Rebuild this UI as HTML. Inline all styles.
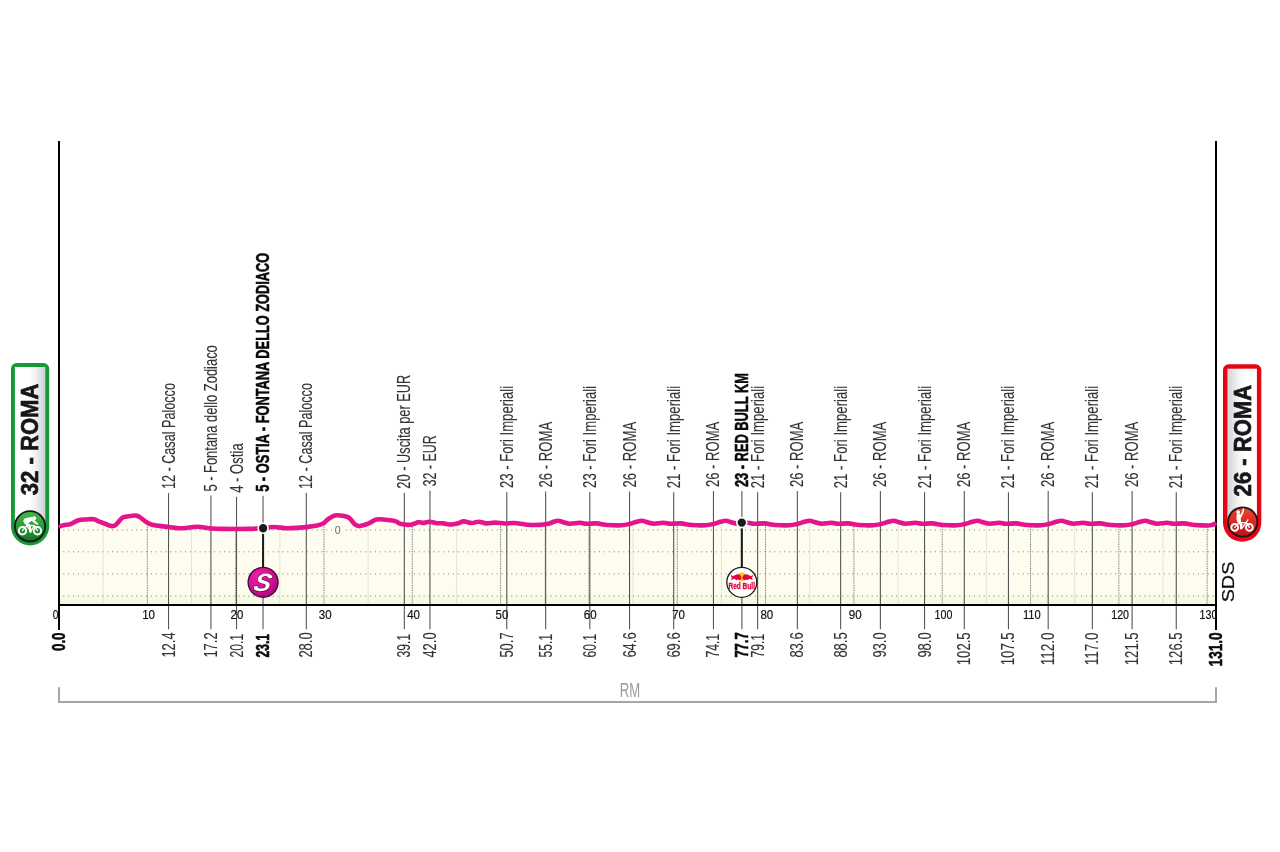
<!DOCTYPE html>
<html><head><meta charset="utf-8"><title>Profile</title>
<style>
html,body{margin:0;padding:0;background:#fff;}
body{width:1280px;height:852px;overflow:hidden;}
svg{display:block;}
text{font-family:"Liberation Sans",sans-serif;}
.lb{font-size:19px;fill:#333;stroke:#333;stroke-width:0.12px;}
.lbb{font-size:19px;fill:#0a0a0a;font-weight:bold;stroke:#0a0a0a;stroke-width:0.55px;}
.tk{font-size:12.8px;fill:#111;stroke:#111;stroke-width:0.2px;}
</style></head><body>
<svg width="1280" height="852" viewBox="0 0 1280 852">
<defs>
<linearGradient id="gf" x1="0" y1="0" x2="0" y2="1"><stop offset="0" stop-color="#fefdf1"/><stop offset="0.86" stop-color="#fdfcee"/><stop offset="1" stop-color="#f3f6de"/></linearGradient>
<linearGradient id="gbL" x1="0" y1="0" x2="1" y2="0"><stop offset="0" stop-color="#ffffff"/><stop offset="0.45" stop-color="#ffffff"/><stop offset="0.68" stop-color="#f1f1f2"/><stop offset="1" stop-color="#cdced1"/></linearGradient>
<linearGradient id="gbR" x1="0" y1="0" x2="1" y2="0"><stop offset="0" stop-color="#d0d4d7"/><stop offset="0.38" stop-color="#f3f4f4"/><stop offset="0.62" stop-color="#ffffff"/><stop offset="1" stop-color="#ffffff"/></linearGradient>
<linearGradient id="gG" x1="0" y1="0" x2="0" y2="1"><stop offset="0" stop-color="#45b944"/><stop offset="0.5" stop-color="#2a9e36"/><stop offset="1" stop-color="#14732a"/></linearGradient>
<linearGradient id="gR" x1="0" y1="0" x2="0" y2="1"><stop offset="0" stop-color="#f0452a"/><stop offset="1" stop-color="#c40d16"/></linearGradient>
<radialGradient id="gS" cx="0.35" cy="0.3" r="0.8"><stop offset="0" stop-color="#f21cab"/><stop offset="0.6" stop-color="#d20f93"/><stop offset="1" stop-color="#9c0a72"/></radialGradient>
</defs>

<clipPath id="cf"><path d="M59,526.3 L60.60,526.20 C61.23,525.98 62.73,525.25 64.40,524.90 C66.07,524.55 68.27,524.88 70.60,524.10 C72.93,523.32 75.79,520.98 78.40,520.20 C81.01,519.43 83.65,519.62 86.25,519.45 C88.85,519.28 91.92,518.88 94.00,519.20 C96.08,519.53 96.92,520.64 98.75,521.40 C100.58,522.16 102.79,522.97 105.00,523.75 C107.21,524.53 110.18,525.94 112.00,526.10 C113.82,526.26 114.20,526.07 115.90,524.70 C117.60,523.33 120.37,519.25 122.20,517.90 C124.03,516.55 124.68,517.00 126.90,516.60 C129.12,516.20 133.42,515.45 135.50,515.50 C137.58,515.55 137.72,515.88 139.40,516.90 C141.08,517.92 143.78,520.40 145.60,521.60 C147.42,522.80 148.73,523.48 150.30,524.10 C151.87,524.72 153.48,525.00 155.00,525.30 C156.52,525.60 157.11,525.62 159.40,525.90 C161.69,526.18 164.85,526.60 168.75,527.00 C172.65,527.40 178.11,528.35 182.80,528.30 C187.49,528.25 192.20,526.68 196.90,526.70 C201.60,526.72 206.83,528.03 211.00,528.40 C215.17,528.77 215.40,528.82 221.90,528.90 C228.40,528.98 244.38,528.95 250.00,528.90 C255.62,528.85 253.42,528.70 255.60,528.60 C257.78,528.50 259.97,528.57 263.10,528.30 C266.23,528.03 270.43,527.00 274.40,527.00 C278.37,527.00 282.63,528.19 286.90,528.30 C291.17,528.41 296.52,527.88 300.00,527.65 C303.48,527.42 305.20,527.22 307.80,526.90 C310.40,526.58 313.12,526.23 315.60,525.70 C318.08,525.18 320.57,524.83 322.65,523.75 C324.73,522.67 326.28,520.51 328.10,519.20 C329.93,517.89 332.03,516.55 333.60,515.90 C335.17,515.25 335.28,515.17 337.50,515.30 C339.72,515.43 344.68,516.01 346.90,516.70 C349.12,517.39 349.50,518.22 350.80,519.45 C352.10,520.68 353.27,522.99 354.70,524.10 C356.13,525.21 357.06,526.22 359.40,526.10 C361.74,525.98 365.88,524.51 368.75,523.40 C371.62,522.29 373.74,520.05 376.60,519.45 C379.46,518.85 383.04,519.59 385.90,519.80 C388.76,520.01 391.90,520.35 393.75,520.70 C395.60,521.05 395.75,521.33 397.00,521.90 C398.25,522.47 398.98,523.63 401.25,524.10 C403.52,524.57 407.74,525.00 410.60,524.70 C413.46,524.40 416.32,522.60 418.40,522.30 C420.48,522.00 421.27,522.98 423.10,522.90 C424.93,522.82 427.05,521.75 429.40,521.80 C431.75,521.85 434.87,522.93 437.20,523.20 C439.53,523.47 441.06,523.18 443.40,523.40 C445.74,523.62 448.90,524.50 451.25,524.50 C453.60,524.50 455.42,523.92 457.50,523.40 C459.58,522.88 461.40,521.47 463.75,521.40 C466.10,521.33 469.12,522.93 471.60,523.00 C474.08,523.07 476.13,521.73 478.60,521.80 C481.07,521.87 483.67,523.27 486.40,523.40 C489.13,523.53 491.90,522.58 495.00,522.60 C498.10,522.62 501.77,523.43 505.00,523.50 C508.23,523.57 510.75,522.80 514.40,523.00 C518.05,523.20 522.73,524.38 526.90,524.70 C531.07,525.02 535.65,525.12 539.40,524.90 C543.15,524.68 547.05,523.92 549.40,523.40 C551.75,522.88 552.05,522.25 553.50,521.80 C554.95,521.35 556.43,520.63 558.10,520.70 C559.77,520.77 561.55,521.70 563.50,522.20 C565.45,522.70 567.07,523.60 569.80,523.70 C572.53,523.80 577.18,522.78 579.90,522.80 C582.62,522.82 583.32,523.70 586.10,523.80 C588.88,523.90 593.02,523.20 596.60,523.40 C600.18,523.60 603.43,524.68 607.60,525.00 C611.77,525.32 617.85,525.50 621.60,525.30 C625.35,525.10 627.60,524.38 630.10,523.80 C632.60,523.22 634.62,522.30 636.60,521.80 C638.59,521.30 640.21,520.73 642.01,520.80 C643.81,520.87 645.46,521.72 647.41,522.20 C649.36,522.68 650.98,523.60 653.71,523.70 C656.44,523.80 661.09,522.78 663.81,522.80 C666.53,522.82 667.23,523.70 670.01,523.80 C672.79,523.90 676.93,523.20 680.51,523.40 C684.09,523.60 687.34,524.68 691.51,525.00 C695.68,525.32 701.76,525.50 705.51,525.30 C709.26,525.10 711.51,524.38 714.01,523.80 C716.51,523.22 718.52,522.30 720.51,521.80 C722.50,521.30 724.12,520.73 725.92,520.80 C727.72,520.87 729.37,521.72 731.32,522.20 C733.27,522.68 734.89,523.60 737.62,523.70 C740.35,523.80 745.00,522.78 747.72,522.80 C750.44,522.82 751.14,523.70 753.92,523.80 C756.70,523.90 760.84,523.20 764.42,523.40 C768.00,523.60 771.25,524.68 775.42,525.00 C779.59,525.32 785.67,525.50 789.42,525.30 C793.17,525.10 795.42,524.38 797.92,523.80 C800.42,523.22 802.44,522.30 804.42,521.80 C806.41,521.30 808.03,520.73 809.83,520.80 C811.63,520.87 813.28,521.72 815.23,522.20 C817.18,522.68 818.80,523.60 821.53,523.70 C824.26,523.80 828.91,522.78 831.63,522.80 C834.35,522.82 835.05,523.70 837.83,523.80 C840.61,523.90 844.75,523.20 848.33,523.40 C851.91,523.60 855.16,524.68 859.33,525.00 C863.50,525.32 869.58,525.50 873.33,525.30 C877.08,525.10 879.33,524.38 881.83,523.80 C884.33,523.22 886.35,522.30 888.33,521.80 C890.32,521.30 891.94,520.73 893.74,520.80 C895.54,520.87 897.19,521.72 899.14,522.20 C901.09,522.68 902.71,523.60 905.44,523.70 C908.17,523.80 912.82,522.78 915.54,522.80 C918.26,522.82 918.96,523.70 921.74,523.80 C924.52,523.90 928.66,523.20 932.24,523.40 C935.82,523.60 939.07,524.68 943.24,525.00 C947.41,525.32 953.49,525.50 957.24,525.30 C960.99,525.10 963.24,524.38 965.74,523.80 C968.24,523.22 970.25,522.30 972.24,521.80 C974.23,521.30 975.85,520.73 977.65,520.80 C979.45,520.87 981.10,521.72 983.05,522.20 C985.00,522.68 986.62,523.60 989.35,523.70 C992.08,523.80 996.73,522.78 999.45,522.80 C1002.17,522.82 1002.87,523.70 1005.65,523.80 C1008.43,523.90 1012.57,523.20 1016.15,523.40 C1019.73,523.60 1022.98,524.68 1027.15,525.00 C1031.32,525.32 1037.40,525.50 1041.15,525.30 C1044.90,525.10 1047.15,524.38 1049.65,523.80 C1052.15,523.22 1054.17,522.30 1056.15,521.80 C1058.13,521.30 1059.76,520.73 1061.56,520.80 C1063.36,520.87 1065.01,521.72 1066.96,522.20 C1068.91,522.68 1070.53,523.60 1073.26,523.70 C1075.99,523.80 1080.64,522.78 1083.36,522.80 C1086.08,522.82 1086.78,523.70 1089.56,523.80 C1092.34,523.90 1096.48,523.20 1100.06,523.40 C1103.64,523.60 1106.89,524.68 1111.06,525.00 C1115.23,525.32 1121.31,525.50 1125.06,525.30 C1128.81,525.10 1131.06,524.38 1133.56,523.80 C1136.06,523.22 1138.07,522.30 1140.06,521.80 C1142.05,521.30 1143.67,520.73 1145.47,520.80 C1147.27,520.87 1148.92,521.72 1150.87,522.20 C1152.82,522.68 1154.44,523.60 1157.17,523.70 C1159.90,523.80 1164.55,522.78 1167.27,522.80 C1169.99,522.82 1170.69,523.70 1173.47,523.80 C1176.25,523.90 1180.39,523.20 1183.97,523.40 C1187.55,523.60 1190.97,524.65 1194.97,525.00 C1198.97,525.35 1205.16,525.50 1208.00,525.50 C1210.84,525.50 1210.90,525.25 1212.00,525.00 C1213.10,524.75 1214.17,524.17 1214.60,524.00 L1216,524 L1216,605 L59,605 Z"/></clipPath>
<path d="M59,526.3 L60.60,526.20 C61.23,525.98 62.73,525.25 64.40,524.90 C66.07,524.55 68.27,524.88 70.60,524.10 C72.93,523.32 75.79,520.98 78.40,520.20 C81.01,519.43 83.65,519.62 86.25,519.45 C88.85,519.28 91.92,518.88 94.00,519.20 C96.08,519.53 96.92,520.64 98.75,521.40 C100.58,522.16 102.79,522.97 105.00,523.75 C107.21,524.53 110.18,525.94 112.00,526.10 C113.82,526.26 114.20,526.07 115.90,524.70 C117.60,523.33 120.37,519.25 122.20,517.90 C124.03,516.55 124.68,517.00 126.90,516.60 C129.12,516.20 133.42,515.45 135.50,515.50 C137.58,515.55 137.72,515.88 139.40,516.90 C141.08,517.92 143.78,520.40 145.60,521.60 C147.42,522.80 148.73,523.48 150.30,524.10 C151.87,524.72 153.48,525.00 155.00,525.30 C156.52,525.60 157.11,525.62 159.40,525.90 C161.69,526.18 164.85,526.60 168.75,527.00 C172.65,527.40 178.11,528.35 182.80,528.30 C187.49,528.25 192.20,526.68 196.90,526.70 C201.60,526.72 206.83,528.03 211.00,528.40 C215.17,528.77 215.40,528.82 221.90,528.90 C228.40,528.98 244.38,528.95 250.00,528.90 C255.62,528.85 253.42,528.70 255.60,528.60 C257.78,528.50 259.97,528.57 263.10,528.30 C266.23,528.03 270.43,527.00 274.40,527.00 C278.37,527.00 282.63,528.19 286.90,528.30 C291.17,528.41 296.52,527.88 300.00,527.65 C303.48,527.42 305.20,527.22 307.80,526.90 C310.40,526.58 313.12,526.23 315.60,525.70 C318.08,525.18 320.57,524.83 322.65,523.75 C324.73,522.67 326.28,520.51 328.10,519.20 C329.93,517.89 332.03,516.55 333.60,515.90 C335.17,515.25 335.28,515.17 337.50,515.30 C339.72,515.43 344.68,516.01 346.90,516.70 C349.12,517.39 349.50,518.22 350.80,519.45 C352.10,520.68 353.27,522.99 354.70,524.10 C356.13,525.21 357.06,526.22 359.40,526.10 C361.74,525.98 365.88,524.51 368.75,523.40 C371.62,522.29 373.74,520.05 376.60,519.45 C379.46,518.85 383.04,519.59 385.90,519.80 C388.76,520.01 391.90,520.35 393.75,520.70 C395.60,521.05 395.75,521.33 397.00,521.90 C398.25,522.47 398.98,523.63 401.25,524.10 C403.52,524.57 407.74,525.00 410.60,524.70 C413.46,524.40 416.32,522.60 418.40,522.30 C420.48,522.00 421.27,522.98 423.10,522.90 C424.93,522.82 427.05,521.75 429.40,521.80 C431.75,521.85 434.87,522.93 437.20,523.20 C439.53,523.47 441.06,523.18 443.40,523.40 C445.74,523.62 448.90,524.50 451.25,524.50 C453.60,524.50 455.42,523.92 457.50,523.40 C459.58,522.88 461.40,521.47 463.75,521.40 C466.10,521.33 469.12,522.93 471.60,523.00 C474.08,523.07 476.13,521.73 478.60,521.80 C481.07,521.87 483.67,523.27 486.40,523.40 C489.13,523.53 491.90,522.58 495.00,522.60 C498.10,522.62 501.77,523.43 505.00,523.50 C508.23,523.57 510.75,522.80 514.40,523.00 C518.05,523.20 522.73,524.38 526.90,524.70 C531.07,525.02 535.65,525.12 539.40,524.90 C543.15,524.68 547.05,523.92 549.40,523.40 C551.75,522.88 552.05,522.25 553.50,521.80 C554.95,521.35 556.43,520.63 558.10,520.70 C559.77,520.77 561.55,521.70 563.50,522.20 C565.45,522.70 567.07,523.60 569.80,523.70 C572.53,523.80 577.18,522.78 579.90,522.80 C582.62,522.82 583.32,523.70 586.10,523.80 C588.88,523.90 593.02,523.20 596.60,523.40 C600.18,523.60 603.43,524.68 607.60,525.00 C611.77,525.32 617.85,525.50 621.60,525.30 C625.35,525.10 627.60,524.38 630.10,523.80 C632.60,523.22 634.62,522.30 636.60,521.80 C638.59,521.30 640.21,520.73 642.01,520.80 C643.81,520.87 645.46,521.72 647.41,522.20 C649.36,522.68 650.98,523.60 653.71,523.70 C656.44,523.80 661.09,522.78 663.81,522.80 C666.53,522.82 667.23,523.70 670.01,523.80 C672.79,523.90 676.93,523.20 680.51,523.40 C684.09,523.60 687.34,524.68 691.51,525.00 C695.68,525.32 701.76,525.50 705.51,525.30 C709.26,525.10 711.51,524.38 714.01,523.80 C716.51,523.22 718.52,522.30 720.51,521.80 C722.50,521.30 724.12,520.73 725.92,520.80 C727.72,520.87 729.37,521.72 731.32,522.20 C733.27,522.68 734.89,523.60 737.62,523.70 C740.35,523.80 745.00,522.78 747.72,522.80 C750.44,522.82 751.14,523.70 753.92,523.80 C756.70,523.90 760.84,523.20 764.42,523.40 C768.00,523.60 771.25,524.68 775.42,525.00 C779.59,525.32 785.67,525.50 789.42,525.30 C793.17,525.10 795.42,524.38 797.92,523.80 C800.42,523.22 802.44,522.30 804.42,521.80 C806.41,521.30 808.03,520.73 809.83,520.80 C811.63,520.87 813.28,521.72 815.23,522.20 C817.18,522.68 818.80,523.60 821.53,523.70 C824.26,523.80 828.91,522.78 831.63,522.80 C834.35,522.82 835.05,523.70 837.83,523.80 C840.61,523.90 844.75,523.20 848.33,523.40 C851.91,523.60 855.16,524.68 859.33,525.00 C863.50,525.32 869.58,525.50 873.33,525.30 C877.08,525.10 879.33,524.38 881.83,523.80 C884.33,523.22 886.35,522.30 888.33,521.80 C890.32,521.30 891.94,520.73 893.74,520.80 C895.54,520.87 897.19,521.72 899.14,522.20 C901.09,522.68 902.71,523.60 905.44,523.70 C908.17,523.80 912.82,522.78 915.54,522.80 C918.26,522.82 918.96,523.70 921.74,523.80 C924.52,523.90 928.66,523.20 932.24,523.40 C935.82,523.60 939.07,524.68 943.24,525.00 C947.41,525.32 953.49,525.50 957.24,525.30 C960.99,525.10 963.24,524.38 965.74,523.80 C968.24,523.22 970.25,522.30 972.24,521.80 C974.23,521.30 975.85,520.73 977.65,520.80 C979.45,520.87 981.10,521.72 983.05,522.20 C985.00,522.68 986.62,523.60 989.35,523.70 C992.08,523.80 996.73,522.78 999.45,522.80 C1002.17,522.82 1002.87,523.70 1005.65,523.80 C1008.43,523.90 1012.57,523.20 1016.15,523.40 C1019.73,523.60 1022.98,524.68 1027.15,525.00 C1031.32,525.32 1037.40,525.50 1041.15,525.30 C1044.90,525.10 1047.15,524.38 1049.65,523.80 C1052.15,523.22 1054.17,522.30 1056.15,521.80 C1058.13,521.30 1059.76,520.73 1061.56,520.80 C1063.36,520.87 1065.01,521.72 1066.96,522.20 C1068.91,522.68 1070.53,523.60 1073.26,523.70 C1075.99,523.80 1080.64,522.78 1083.36,522.80 C1086.08,522.82 1086.78,523.70 1089.56,523.80 C1092.34,523.90 1096.48,523.20 1100.06,523.40 C1103.64,523.60 1106.89,524.68 1111.06,525.00 C1115.23,525.32 1121.31,525.50 1125.06,525.30 C1128.81,525.10 1131.06,524.38 1133.56,523.80 C1136.06,523.22 1138.07,522.30 1140.06,521.80 C1142.05,521.30 1143.67,520.73 1145.47,520.80 C1147.27,520.87 1148.92,521.72 1150.87,522.20 C1152.82,522.68 1154.44,523.60 1157.17,523.70 C1159.90,523.80 1164.55,522.78 1167.27,522.80 C1169.99,522.82 1170.69,523.70 1173.47,523.80 C1176.25,523.90 1180.39,523.20 1183.97,523.40 C1187.55,523.60 1190.97,524.65 1194.97,525.00 C1198.97,525.35 1205.16,525.50 1208.00,525.50 C1210.84,525.50 1210.90,525.25 1212.00,525.00 C1213.10,524.75 1214.17,524.17 1214.60,524.00 L1216,524 L1216,605 L59,605 Z" fill="url(#gf)"/>
<g clip-path="url(#cf)">
<line x1="63.3" y1="530" x2="1214" y2="530" stroke="#7e7e77" stroke-width="1" stroke-dasharray="1 3.87"/>
<line x1="63.3" y1="551.8" x2="1214" y2="551.8" stroke="#7e7e77" stroke-width="1" stroke-dasharray="1 3.87"/>
<line x1="63.3" y1="573.9" x2="1214" y2="573.9" stroke="#7e7e77" stroke-width="1" stroke-dasharray="1 3.87"/>
<line x1="63.3" y1="596.1" x2="1214" y2="596.1" stroke="#7e7e77" stroke-width="1" stroke-dasharray="1 3.87"/>
<line x1="103.16" y1="510.2" x2="103.16" y2="604" stroke="#cdcdc2" stroke-width="1" stroke-dasharray="0.9 0.8"/>
<line x1="147.32" y1="510.2" x2="147.32" y2="604" stroke="#6e6e6a" stroke-width="1" stroke-dasharray="0.9 0.8"/>
<line x1="191.48" y1="510.2" x2="191.48" y2="604" stroke="#cdcdc2" stroke-width="1" stroke-dasharray="0.9 0.8"/>
<line x1="235.64" y1="510.2" x2="235.64" y2="604" stroke="#6e6e6a" stroke-width="1" stroke-dasharray="0.9 0.8"/>
<line x1="279.80" y1="510.2" x2="279.80" y2="604" stroke="#cdcdc2" stroke-width="1" stroke-dasharray="0.9 0.8"/>
<line x1="323.96" y1="510.2" x2="323.96" y2="604" stroke="#6e6e6a" stroke-width="1" stroke-dasharray="0.9 0.8"/>
<line x1="368.12" y1="510.2" x2="368.12" y2="604" stroke="#cdcdc2" stroke-width="1" stroke-dasharray="0.9 0.8"/>
<line x1="412.28" y1="510.2" x2="412.28" y2="604" stroke="#6e6e6a" stroke-width="1" stroke-dasharray="0.9 0.8"/>
<line x1="456.44" y1="510.2" x2="456.44" y2="604" stroke="#cdcdc2" stroke-width="1" stroke-dasharray="0.9 0.8"/>
<line x1="500.60" y1="510.2" x2="500.60" y2="604" stroke="#6e6e6a" stroke-width="1" stroke-dasharray="0.9 0.8"/>
<line x1="544.76" y1="510.2" x2="544.76" y2="604" stroke="#cdcdc2" stroke-width="1" stroke-dasharray="0.9 0.8"/>
<line x1="588.92" y1="510.2" x2="588.92" y2="604" stroke="#6e6e6a" stroke-width="1" stroke-dasharray="0.9 0.8"/>
<line x1="633.08" y1="510.2" x2="633.08" y2="604" stroke="#cdcdc2" stroke-width="1" stroke-dasharray="0.9 0.8"/>
<line x1="677.24" y1="510.2" x2="677.24" y2="604" stroke="#6e6e6a" stroke-width="1" stroke-dasharray="0.9 0.8"/>
<line x1="721.40" y1="510.2" x2="721.40" y2="604" stroke="#cdcdc2" stroke-width="1" stroke-dasharray="0.9 0.8"/>
<line x1="765.56" y1="510.2" x2="765.56" y2="604" stroke="#6e6e6a" stroke-width="1" stroke-dasharray="0.9 0.8"/>
<line x1="809.73" y1="510.2" x2="809.73" y2="604" stroke="#cdcdc2" stroke-width="1" stroke-dasharray="0.9 0.8"/>
<line x1="853.89" y1="510.2" x2="853.89" y2="604" stroke="#6e6e6a" stroke-width="1" stroke-dasharray="0.9 0.8"/>
<line x1="898.05" y1="510.2" x2="898.05" y2="604" stroke="#cdcdc2" stroke-width="1" stroke-dasharray="0.9 0.8"/>
<line x1="942.21" y1="510.2" x2="942.21" y2="604" stroke="#6e6e6a" stroke-width="1" stroke-dasharray="0.9 0.8"/>
<line x1="986.37" y1="510.2" x2="986.37" y2="604" stroke="#cdcdc2" stroke-width="1" stroke-dasharray="0.9 0.8"/>
<line x1="1030.53" y1="510.2" x2="1030.53" y2="604" stroke="#6e6e6a" stroke-width="1" stroke-dasharray="0.9 0.8"/>
<line x1="1074.69" y1="510.2" x2="1074.69" y2="604" stroke="#cdcdc2" stroke-width="1" stroke-dasharray="0.9 0.8"/>
<line x1="1118.85" y1="510.2" x2="1118.85" y2="604" stroke="#6e6e6a" stroke-width="1" stroke-dasharray="0.9 0.8"/>
<line x1="1163.01" y1="510.2" x2="1163.01" y2="604" stroke="#cdcdc2" stroke-width="1" stroke-dasharray="0.9 0.8"/>
<line x1="1207.17" y1="510.2" x2="1207.17" y2="604" stroke="#6e6e6a" stroke-width="1" stroke-dasharray="0.9 0.8"/>
</g>
<rect x="333.4" y="526" width="8.8" height="8" fill="#fdfcee"/>
<text x="337.75" y="533.7" text-anchor="middle" style="font-size:11.2px;fill:#666" textLength="5.9" lengthAdjust="spacingAndGlyphs">0</text>
<line x1="168.52" y1="493.1" x2="168.52" y2="629.3" stroke="#555" stroke-width="1.1"/>
<line x1="210.91" y1="495.6" x2="210.91" y2="629.3" stroke="#555" stroke-width="1.1"/>
<line x1="236.52" y1="496.8" x2="236.52" y2="629.3" stroke="#555" stroke-width="1.1"/>
<line x1="263.02" y1="495.8" x2="263.02" y2="629.3" stroke="#555" stroke-width="1.1"/>
<line x1="306.30" y1="492.9" x2="306.30" y2="629.3" stroke="#555" stroke-width="1.1"/>
<line x1="404.33" y1="492.7" x2="404.33" y2="629.3" stroke="#555" stroke-width="1.1"/>
<line x1="429.95" y1="490.5" x2="429.95" y2="629.3" stroke="#555" stroke-width="1.1"/>
<line x1="506.79" y1="492.1" x2="506.79" y2="629.3" stroke="#555" stroke-width="1.1"/>
<line x1="545.65" y1="491.5" x2="545.65" y2="629.3" stroke="#555" stroke-width="1.1"/>
<line x1="589.81" y1="491.9" x2="589.81" y2="629.3" stroke="#555" stroke-width="1.1"/>
<line x1="629.55" y1="491.5" x2="629.55" y2="629.3" stroke="#555" stroke-width="1.1"/>
<line x1="673.71" y1="492.2" x2="673.71" y2="629.3" stroke="#555" stroke-width="1.1"/>
<line x1="713.46" y1="491.1" x2="713.46" y2="629.3" stroke="#555" stroke-width="1.1"/>
<line x1="741.90" y1="491.1" x2="741.90" y2="629.3" stroke="#555" stroke-width="1.1"/>
<line x1="757.62" y1="492.2" x2="757.62" y2="629.3" stroke="#555" stroke-width="1.1"/>
<line x1="797.36" y1="491.1" x2="797.36" y2="629.3" stroke="#555" stroke-width="1.1"/>
<line x1="840.64" y1="492.2" x2="840.64" y2="629.3" stroke="#555" stroke-width="1.1"/>
<line x1="880.38" y1="491.1" x2="880.38" y2="629.3" stroke="#555" stroke-width="1.1"/>
<line x1="924.54" y1="492.2" x2="924.54" y2="629.3" stroke="#555" stroke-width="1.1"/>
<line x1="964.29" y1="491.1" x2="964.29" y2="629.3" stroke="#555" stroke-width="1.1"/>
<line x1="1008.45" y1="492.2" x2="1008.45" y2="629.3" stroke="#555" stroke-width="1.1"/>
<line x1="1048.19" y1="491.1" x2="1048.19" y2="629.3" stroke="#555" stroke-width="1.1"/>
<line x1="1092.35" y1="492.2" x2="1092.35" y2="629.3" stroke="#555" stroke-width="1.1"/>
<line x1="1132.10" y1="491.1" x2="1132.10" y2="629.3" stroke="#555" stroke-width="1.1"/>
<line x1="1176.26" y1="492.2" x2="1176.26" y2="629.3" stroke="#555" stroke-width="1.1"/>
<rect x="58" y="141" width="2" height="489" fill="#000"/>
<rect x="1215" y="141" width="2" height="489" fill="#000"/>
<rect x="58" y="604" width="1159" height="2" fill="#000"/>
<path d="M60.60,526.20 C61.23,525.98 62.73,525.25 64.40,524.90 C66.07,524.55 68.27,524.88 70.60,524.10 C72.93,523.32 75.79,520.98 78.40,520.20 C81.01,519.43 83.65,519.62 86.25,519.45 C88.85,519.28 91.92,518.88 94.00,519.20 C96.08,519.53 96.92,520.64 98.75,521.40 C100.58,522.16 102.79,522.97 105.00,523.75 C107.21,524.53 110.18,525.94 112.00,526.10 C113.82,526.26 114.20,526.07 115.90,524.70 C117.60,523.33 120.37,519.25 122.20,517.90 C124.03,516.55 124.68,517.00 126.90,516.60 C129.12,516.20 133.42,515.45 135.50,515.50 C137.58,515.55 137.72,515.88 139.40,516.90 C141.08,517.92 143.78,520.40 145.60,521.60 C147.42,522.80 148.73,523.48 150.30,524.10 C151.87,524.72 153.48,525.00 155.00,525.30 C156.52,525.60 157.11,525.62 159.40,525.90 C161.69,526.18 164.85,526.60 168.75,527.00 C172.65,527.40 178.11,528.35 182.80,528.30 C187.49,528.25 192.20,526.68 196.90,526.70 C201.60,526.72 206.83,528.03 211.00,528.40 C215.17,528.77 215.40,528.82 221.90,528.90 C228.40,528.98 244.38,528.95 250.00,528.90 C255.62,528.85 253.42,528.70 255.60,528.60 C257.78,528.50 259.97,528.57 263.10,528.30 C266.23,528.03 270.43,527.00 274.40,527.00 C278.37,527.00 282.63,528.19 286.90,528.30 C291.17,528.41 296.52,527.88 300.00,527.65 C303.48,527.42 305.20,527.22 307.80,526.90 C310.40,526.58 313.12,526.23 315.60,525.70 C318.08,525.18 320.57,524.83 322.65,523.75 C324.73,522.67 326.28,520.51 328.10,519.20 C329.93,517.89 332.03,516.55 333.60,515.90 C335.17,515.25 335.28,515.17 337.50,515.30 C339.72,515.43 344.68,516.01 346.90,516.70 C349.12,517.39 349.50,518.22 350.80,519.45 C352.10,520.68 353.27,522.99 354.70,524.10 C356.13,525.21 357.06,526.22 359.40,526.10 C361.74,525.98 365.88,524.51 368.75,523.40 C371.62,522.29 373.74,520.05 376.60,519.45 C379.46,518.85 383.04,519.59 385.90,519.80 C388.76,520.01 391.90,520.35 393.75,520.70 C395.60,521.05 395.75,521.33 397.00,521.90 C398.25,522.47 398.98,523.63 401.25,524.10 C403.52,524.57 407.74,525.00 410.60,524.70 C413.46,524.40 416.32,522.60 418.40,522.30 C420.48,522.00 421.27,522.98 423.10,522.90 C424.93,522.82 427.05,521.75 429.40,521.80 C431.75,521.85 434.87,522.93 437.20,523.20 C439.53,523.47 441.06,523.18 443.40,523.40 C445.74,523.62 448.90,524.50 451.25,524.50 C453.60,524.50 455.42,523.92 457.50,523.40 C459.58,522.88 461.40,521.47 463.75,521.40 C466.10,521.33 469.12,522.93 471.60,523.00 C474.08,523.07 476.13,521.73 478.60,521.80 C481.07,521.87 483.67,523.27 486.40,523.40 C489.13,523.53 491.90,522.58 495.00,522.60 C498.10,522.62 501.77,523.43 505.00,523.50 C508.23,523.57 510.75,522.80 514.40,523.00 C518.05,523.20 522.73,524.38 526.90,524.70 C531.07,525.02 535.65,525.12 539.40,524.90 C543.15,524.68 547.05,523.92 549.40,523.40 C551.75,522.88 552.05,522.25 553.50,521.80 C554.95,521.35 556.43,520.63 558.10,520.70 C559.77,520.77 561.55,521.70 563.50,522.20 C565.45,522.70 567.07,523.60 569.80,523.70 C572.53,523.80 577.18,522.78 579.90,522.80 C582.62,522.82 583.32,523.70 586.10,523.80 C588.88,523.90 593.02,523.20 596.60,523.40 C600.18,523.60 603.43,524.68 607.60,525.00 C611.77,525.32 617.85,525.50 621.60,525.30 C625.35,525.10 627.60,524.38 630.10,523.80 C632.60,523.22 634.62,522.30 636.60,521.80 C638.59,521.30 640.21,520.73 642.01,520.80 C643.81,520.87 645.46,521.72 647.41,522.20 C649.36,522.68 650.98,523.60 653.71,523.70 C656.44,523.80 661.09,522.78 663.81,522.80 C666.53,522.82 667.23,523.70 670.01,523.80 C672.79,523.90 676.93,523.20 680.51,523.40 C684.09,523.60 687.34,524.68 691.51,525.00 C695.68,525.32 701.76,525.50 705.51,525.30 C709.26,525.10 711.51,524.38 714.01,523.80 C716.51,523.22 718.52,522.30 720.51,521.80 C722.50,521.30 724.12,520.73 725.92,520.80 C727.72,520.87 729.37,521.72 731.32,522.20 C733.27,522.68 734.89,523.60 737.62,523.70 C740.35,523.80 745.00,522.78 747.72,522.80 C750.44,522.82 751.14,523.70 753.92,523.80 C756.70,523.90 760.84,523.20 764.42,523.40 C768.00,523.60 771.25,524.68 775.42,525.00 C779.59,525.32 785.67,525.50 789.42,525.30 C793.17,525.10 795.42,524.38 797.92,523.80 C800.42,523.22 802.44,522.30 804.42,521.80 C806.41,521.30 808.03,520.73 809.83,520.80 C811.63,520.87 813.28,521.72 815.23,522.20 C817.18,522.68 818.80,523.60 821.53,523.70 C824.26,523.80 828.91,522.78 831.63,522.80 C834.35,522.82 835.05,523.70 837.83,523.80 C840.61,523.90 844.75,523.20 848.33,523.40 C851.91,523.60 855.16,524.68 859.33,525.00 C863.50,525.32 869.58,525.50 873.33,525.30 C877.08,525.10 879.33,524.38 881.83,523.80 C884.33,523.22 886.35,522.30 888.33,521.80 C890.32,521.30 891.94,520.73 893.74,520.80 C895.54,520.87 897.19,521.72 899.14,522.20 C901.09,522.68 902.71,523.60 905.44,523.70 C908.17,523.80 912.82,522.78 915.54,522.80 C918.26,522.82 918.96,523.70 921.74,523.80 C924.52,523.90 928.66,523.20 932.24,523.40 C935.82,523.60 939.07,524.68 943.24,525.00 C947.41,525.32 953.49,525.50 957.24,525.30 C960.99,525.10 963.24,524.38 965.74,523.80 C968.24,523.22 970.25,522.30 972.24,521.80 C974.23,521.30 975.85,520.73 977.65,520.80 C979.45,520.87 981.10,521.72 983.05,522.20 C985.00,522.68 986.62,523.60 989.35,523.70 C992.08,523.80 996.73,522.78 999.45,522.80 C1002.17,522.82 1002.87,523.70 1005.65,523.80 C1008.43,523.90 1012.57,523.20 1016.15,523.40 C1019.73,523.60 1022.98,524.68 1027.15,525.00 C1031.32,525.32 1037.40,525.50 1041.15,525.30 C1044.90,525.10 1047.15,524.38 1049.65,523.80 C1052.15,523.22 1054.17,522.30 1056.15,521.80 C1058.13,521.30 1059.76,520.73 1061.56,520.80 C1063.36,520.87 1065.01,521.72 1066.96,522.20 C1068.91,522.68 1070.53,523.60 1073.26,523.70 C1075.99,523.80 1080.64,522.78 1083.36,522.80 C1086.08,522.82 1086.78,523.70 1089.56,523.80 C1092.34,523.90 1096.48,523.20 1100.06,523.40 C1103.64,523.60 1106.89,524.68 1111.06,525.00 C1115.23,525.32 1121.31,525.50 1125.06,525.30 C1128.81,525.10 1131.06,524.38 1133.56,523.80 C1136.06,523.22 1138.07,522.30 1140.06,521.80 C1142.05,521.30 1143.67,520.73 1145.47,520.80 C1147.27,520.87 1148.92,521.72 1150.87,522.20 C1152.82,522.68 1154.44,523.60 1157.17,523.70 C1159.90,523.80 1164.55,522.78 1167.27,522.80 C1169.99,522.82 1170.69,523.70 1173.47,523.80 C1176.25,523.90 1180.39,523.20 1183.97,523.40 C1187.55,523.60 1190.97,524.65 1194.97,525.00 C1198.97,525.35 1205.16,525.50 1208.00,525.50 C1210.84,525.50 1210.90,525.25 1212.00,525.00 C1213.10,524.75 1214.17,524.17 1214.60,524.00" fill="none" stroke="#e5148c" stroke-width="4.6" stroke-linejoin="round" stroke-linecap="round"/>
<text class="lb" transform="translate(174.50,489.10) rotate(-90)" textLength="106.00" lengthAdjust="spacingAndGlyphs">12 - Casal Palocco</text>
<text class="lb" transform="translate(216.90,491.60) rotate(-90)" textLength="146.40" lengthAdjust="spacingAndGlyphs">5 - Fontana dello Zodiaco</text>
<text class="lb" transform="translate(242.51,492.80) rotate(-90)" textLength="49.50" lengthAdjust="spacingAndGlyphs">4 - Ostia</text>
<text class="lbb" transform="translate(269.01,491.80) rotate(-90)" textLength="239.10" lengthAdjust="spacingAndGlyphs">5 - OSTIA - FONTANA DELLO ZODIACO</text>
<text class="lb" transform="translate(312.28,488.90) rotate(-90)" textLength="105.80" lengthAdjust="spacingAndGlyphs">12 - Casal Palocco</text>
<text class="lb" transform="translate(410.32,488.70) rotate(-90)" textLength="114.10" lengthAdjust="spacingAndGlyphs">20 - Uscita per EUR</text>
<text class="lb" transform="translate(435.93,486.50) rotate(-90)" textLength="51.30" lengthAdjust="spacingAndGlyphs">32 - EUR</text>
<text class="lb" transform="translate(512.77,488.10) rotate(-90)" textLength="102.25" lengthAdjust="spacingAndGlyphs">23 - Fori Imperiali</text>
<text class="lb" transform="translate(551.63,487.50) rotate(-90)" textLength="65.65" lengthAdjust="spacingAndGlyphs">26 - ROMA</text>
<text class="lb" transform="translate(595.79,487.90) rotate(-90)" textLength="102.05" lengthAdjust="spacingAndGlyphs">23 - Fori Imperiali</text>
<text class="lb" transform="translate(635.54,487.50) rotate(-90)" textLength="65.65" lengthAdjust="spacingAndGlyphs">26 - ROMA</text>
<text class="lb" transform="translate(679.70,488.20) rotate(-90)" textLength="102.30" lengthAdjust="spacingAndGlyphs">21 - Fori Imperiali</text>
<text class="lb" transform="translate(719.44,487.10) rotate(-90)" textLength="65.40" lengthAdjust="spacingAndGlyphs">26 - ROMA</text>
<text class="lbb" transform="translate(747.89,487.10) rotate(-90)" textLength="114.00" lengthAdjust="spacingAndGlyphs">23 - RED BULL KM</text>
<text class="lb" transform="translate(763.60,488.20) rotate(-90)" textLength="102.30" lengthAdjust="spacingAndGlyphs">21 - Fori Imperiali</text>
<text class="lb" transform="translate(803.35,487.10) rotate(-90)" textLength="65.40" lengthAdjust="spacingAndGlyphs">26 - ROMA</text>
<text class="lb" transform="translate(846.62,488.20) rotate(-90)" textLength="102.30" lengthAdjust="spacingAndGlyphs">21 - Fori Imperiali</text>
<text class="lb" transform="translate(886.37,487.10) rotate(-90)" textLength="65.40" lengthAdjust="spacingAndGlyphs">26 - ROMA</text>
<text class="lb" transform="translate(930.53,488.20) rotate(-90)" textLength="102.30" lengthAdjust="spacingAndGlyphs">21 - Fori Imperiali</text>
<text class="lb" transform="translate(970.27,487.10) rotate(-90)" textLength="65.40" lengthAdjust="spacingAndGlyphs">26 - ROMA</text>
<text class="lb" transform="translate(1014.43,488.20) rotate(-90)" textLength="102.30" lengthAdjust="spacingAndGlyphs">21 - Fori Imperiali</text>
<text class="lb" transform="translate(1054.18,487.10) rotate(-90)" textLength="65.40" lengthAdjust="spacingAndGlyphs">26 - ROMA</text>
<text class="lb" transform="translate(1098.34,488.20) rotate(-90)" textLength="102.30" lengthAdjust="spacingAndGlyphs">21 - Fori Imperiali</text>
<text class="lb" transform="translate(1138.08,487.10) rotate(-90)" textLength="65.40" lengthAdjust="spacingAndGlyphs">26 - ROMA</text>
<text class="lb" transform="translate(1182.24,488.20) rotate(-90)" textLength="102.30" lengthAdjust="spacingAndGlyphs">21 - Fori Imperiali</text>
<text class="lbb" transform="translate(64.99,632.40) rotate(-90)" text-anchor="end" textLength="18.70" lengthAdjust="spacingAndGlyphs">0.0</text>
<text class="lb" transform="translate(174.50,632.40) rotate(-90)" text-anchor="end" textLength="25.20" lengthAdjust="spacingAndGlyphs">12.4</text>
<text class="lb" transform="translate(216.90,632.40) rotate(-90)" text-anchor="end" textLength="25.20" lengthAdjust="spacingAndGlyphs">17.2</text>
<text class="lb" transform="translate(242.51,634.00) rotate(-90)" text-anchor="end" textLength="23.60" lengthAdjust="spacingAndGlyphs">20.1</text>
<text class="lbb" transform="translate(269.01,634.00) rotate(-90)" text-anchor="end" textLength="23.60" lengthAdjust="spacingAndGlyphs">23.1</text>
<text class="lb" transform="translate(312.28,632.40) rotate(-90)" text-anchor="end" textLength="25.20" lengthAdjust="spacingAndGlyphs">28.0</text>
<text class="lb" transform="translate(410.32,634.00) rotate(-90)" text-anchor="end" textLength="23.60" lengthAdjust="spacingAndGlyphs">39.1</text>
<text class="lb" transform="translate(435.93,632.40) rotate(-90)" text-anchor="end" textLength="25.20" lengthAdjust="spacingAndGlyphs">42.0</text>
<text class="lb" transform="translate(512.77,632.40) rotate(-90)" text-anchor="end" textLength="25.20" lengthAdjust="spacingAndGlyphs">50.7</text>
<text class="lb" transform="translate(551.63,634.00) rotate(-90)" text-anchor="end" textLength="23.60" lengthAdjust="spacingAndGlyphs">55.1</text>
<text class="lb" transform="translate(595.79,634.00) rotate(-90)" text-anchor="end" textLength="23.60" lengthAdjust="spacingAndGlyphs">60.1</text>
<text class="lb" transform="translate(635.54,632.40) rotate(-90)" text-anchor="end" textLength="25.20" lengthAdjust="spacingAndGlyphs">64.6</text>
<text class="lb" transform="translate(679.70,632.40) rotate(-90)" text-anchor="end" textLength="25.20" lengthAdjust="spacingAndGlyphs">69.6</text>
<text class="lb" transform="translate(719.44,634.00) rotate(-90)" text-anchor="end" textLength="23.60" lengthAdjust="spacingAndGlyphs">74.1</text>
<text class="lbb" transform="translate(747.89,632.40) rotate(-90)" text-anchor="end" textLength="25.20" lengthAdjust="spacingAndGlyphs">77.7</text>
<text class="lb" transform="translate(763.60,634.00) rotate(-90)" text-anchor="end" textLength="23.60" lengthAdjust="spacingAndGlyphs">79.1</text>
<text class="lb" transform="translate(803.35,632.40) rotate(-90)" text-anchor="end" textLength="25.20" lengthAdjust="spacingAndGlyphs">83.6</text>
<text class="lb" transform="translate(846.62,632.40) rotate(-90)" text-anchor="end" textLength="25.20" lengthAdjust="spacingAndGlyphs">88.5</text>
<text class="lb" transform="translate(886.37,632.40) rotate(-90)" text-anchor="end" textLength="25.20" lengthAdjust="spacingAndGlyphs">93.0</text>
<text class="lb" transform="translate(930.53,632.40) rotate(-90)" text-anchor="end" textLength="25.20" lengthAdjust="spacingAndGlyphs">98.0</text>
<text class="lb" transform="translate(970.27,632.40) rotate(-90)" text-anchor="end" textLength="32.80" lengthAdjust="spacingAndGlyphs">102.5</text>
<text class="lb" transform="translate(1014.43,632.40) rotate(-90)" text-anchor="end" textLength="32.80" lengthAdjust="spacingAndGlyphs">107.5</text>
<text class="lb" transform="translate(1054.18,632.40) rotate(-90)" text-anchor="end" textLength="32.80" lengthAdjust="spacingAndGlyphs">112.0</text>
<text class="lb" transform="translate(1098.34,632.40) rotate(-90)" text-anchor="end" textLength="32.80" lengthAdjust="spacingAndGlyphs">117.0</text>
<text class="lb" transform="translate(1138.08,632.40) rotate(-90)" text-anchor="end" textLength="32.80" lengthAdjust="spacingAndGlyphs">121.5</text>
<text class="lb" transform="translate(1182.24,632.40) rotate(-90)" text-anchor="end" textLength="32.80" lengthAdjust="spacingAndGlyphs">126.5</text>
<text class="lbb" transform="translate(1221.99,632.40) rotate(-90)" text-anchor="end" textLength="34.00" lengthAdjust="spacingAndGlyphs">131.0</text>
<text class="tk" x="148.62" y="618.6" text-anchor="middle" textLength="12.80" lengthAdjust="spacingAndGlyphs">10</text>
<text class="tk" x="236.94" y="618.6" text-anchor="middle" textLength="12.80" lengthAdjust="spacingAndGlyphs">20</text>
<text class="tk" x="325.26" y="618.6" text-anchor="middle" textLength="12.80" lengthAdjust="spacingAndGlyphs">30</text>
<text class="tk" x="413.58" y="618.6" text-anchor="middle" textLength="12.80" lengthAdjust="spacingAndGlyphs">40</text>
<text class="tk" x="501.90" y="618.6" text-anchor="middle" textLength="12.80" lengthAdjust="spacingAndGlyphs">50</text>
<text class="tk" x="590.22" y="618.6" text-anchor="middle" textLength="12.80" lengthAdjust="spacingAndGlyphs">60</text>
<text class="tk" x="678.54" y="618.6" text-anchor="middle" textLength="12.80" lengthAdjust="spacingAndGlyphs">70</text>
<text class="tk" x="766.86" y="618.6" text-anchor="middle" textLength="12.80" lengthAdjust="spacingAndGlyphs">80</text>
<text class="tk" x="855.19" y="618.6" text-anchor="middle" textLength="12.80" lengthAdjust="spacingAndGlyphs">90</text>
<text class="tk" x="943.51" y="618.6" text-anchor="middle" textLength="17.80" lengthAdjust="spacingAndGlyphs">100</text>
<text class="tk" x="1031.83" y="618.6" text-anchor="middle" textLength="17.80" lengthAdjust="spacingAndGlyphs">110</text>
<text class="tk" x="1120.15" y="618.6" text-anchor="middle" textLength="17.80" lengthAdjust="spacingAndGlyphs">120</text>
<text class="tk" x="1208.47" y="618.6" text-anchor="middle" textLength="17.80" lengthAdjust="spacingAndGlyphs">130</text>
<text class="tk" x="58.3" y="618.6" text-anchor="end" textLength="5.6" lengthAdjust="spacingAndGlyphs">0</text>
<path d="M59,687.3 V702 H1216 V687.3" fill="none" stroke="#a6a6a6" stroke-width="2"/>
<text x="630" y="696.6" text-anchor="middle" style="font-size:20px;fill:#9b9b9b" textLength="20.4" lengthAdjust="spacingAndGlyphs">RM</text>
<text transform="translate(1233.6,602.3) rotate(-90)" style="font-size:16.4px;fill:#111;stroke:#111;stroke-width:0.25px" textLength="40.6" lengthAdjust="spacingAndGlyphs">SDS</text>
<line x1="263.10" y1="528.30" x2="263.10" y2="568.30" stroke="#1a1a1a" stroke-width="2"/><circle cx="263.10" cy="528.30" r="5" fill="#1a1a1a" stroke="#fff" stroke-width="1.6"/><circle cx="263.10" cy="582.30" r="15" fill="url(#gS)" stroke="#3a0a2c" stroke-width="1.3"/><text transform="translate(261.20,591.20) skewX(-12) scale(1.04,1)" text-anchor="middle" style="font-size:25px;font-weight:bold;font-style:italic;fill:#fff;stroke:#6a064c;stroke-width:1.3px;paint-order:stroke" >S</text>
<line x1="741.80" y1="522.60" x2="741.80" y2="568.30" stroke="#1a1a1a" stroke-width="2"/><circle cx="741.80" cy="522.60" r="5" fill="#1a1a1a" stroke="#fff" stroke-width="1.6"/><circle cx="741.80" cy="582.30" r="15" fill="#fff" stroke="#1a1a1a" stroke-width="1.3"/><circle cx="741.80" cy="576.80" r="4.2" fill="#ffc20e"/><path transform="translate(741.80,0)" d="M-0.3,577.6 L-1.6,575.2 L-3.2,574.3 L-5.4,574.6 L-7.6,575.6 L-9.4,576.2 L-10.6,574.4 L-10.9,576.6 L-9.8,577.6 L-10.6,579.2 L-10.2,580.2 L-8.6,579.0 L-7.0,579.0 L-5.6,580.3 L-4.2,579.6 L-2.6,580.2 L-1.2,579.4 Z" fill="#e1063c"/><path transform="translate(742.00,0) scale(-1,1)" d="M-0.3,577.6 L-1.6,575.2 L-3.2,574.3 L-5.4,574.6 L-7.6,575.6 L-9.4,576.2 L-10.6,574.4 L-10.9,576.6 L-9.8,577.6 L-10.6,579.2 L-10.2,580.2 L-8.6,579.0 L-7.0,579.0 L-5.6,580.3 L-4.2,579.6 L-2.6,580.2 L-1.2,579.4 Z" fill="#e1063c"/><text x="741.70" y="589.1" text-anchor="middle" style="font-size:8.6px;font-weight:bold;fill:#e1063c;stroke:#e1063c;stroke-width:0.3px" textLength="26.6" lengthAdjust="spacingAndGlyphs">Red Bull</text>
<path d="M11.00,368.60 a5.5,5.5 0 0 1 5.5,-5.5 H43.70 a5.5,5.5 0 0 1 5.5,5.5 V526.30 a19.10,19.10 0 0 1 -38.20,0 Z" fill="#149a36"/><rect x="14.90" y="367.00" width="30.40" height="159.30" fill="url(#gbL)"/><circle cx="30.05" cy="526.30" r="15.15" fill="url(#gG)" stroke="#1c161d" stroke-width="1.9"/><text transform="translate(37.60,495.20) rotate(-90)" style="font-size:23.3px;font-weight:bold;fill:#16161a;stroke:#16161a;stroke-width:0.7px" textLength="111.60" lengthAdjust="spacingAndGlyphs">32 - ROMA</text><g transform="translate(30.05,526.30)" fill="none" stroke="#fff" stroke-linecap="round" stroke-linejoin="round"><circle cx="-7.6" cy="4.5" r="3.7" stroke-width="2"/><circle cx="7.4" cy="4.5" r="3.7" stroke-width="2"/><path d="M-7.6,4.3 L-3.4,-0.6 L0.6,5.2 L4.2,-0.8 L7.4,4.3 M-3.4,-0.6 L4.2,-0.8" stroke-width="1.3"/><path d="M-4.8,-3.6 L-0.4,-0.6 L0.4,5.4" stroke-width="2.4"/><path d="M-6.6,-6.4 C-6,-8.2 -3,-9 1.4,-9.4 C2.6,-9.4 3.2,-8.6 3.6,-7.6 L5.2,-5.2 L8.4,-2.6 L7.6,-1.4 L3.8,-3.6 L1.6,-5.6 L-1.2,-3.4 L-5,-3 C-6.4,-3.6 -7,-5 -6.6,-6.4 Z" fill="#fff" stroke="none"/><circle cx="4.1" cy="-8.1" r="2.0" fill="#fff" stroke="none"/></g>
<path d="M1223.00,369.80 a5.5,5.5 0 0 1 5.5,-5.5 H1255.80 a5.5,5.5 0 0 1 5.5,5.5 V522.65 a19.15,19.15 0 0 1 -38.30,0 Z" fill="#e40613"/><rect x="1227.40" y="368.70" width="29.50" height="153.30" fill="url(#gbR)"/><circle cx="1242.70" cy="522.00" r="14.65" fill="url(#gR)" stroke="#1c161d" stroke-width="1.9"/><text transform="translate(1250.90,496.40) rotate(-90)" style="font-size:23.3px;font-weight:bold;fill:#16161a;stroke:#16161a;stroke-width:0.7px" textLength="111.60" lengthAdjust="spacingAndGlyphs">26 - ROMA</text><g transform="translate(1242.70,522.00)" fill="none" stroke="#fff" stroke-linecap="round" stroke-linejoin="round"><circle cx="-8.0" cy="5.4" r="3.4" stroke-width="1.9"/><circle cx="6.7" cy="5.4" r="3.4" stroke-width="1.9"/><path d="M-8,5.4 L-3.6,0.6 L-0.6,6 L3.6,0.4 L6.7,5.4 M-3.6,0.6 L3.6,0.4 L5.2,-2.2" stroke-width="1.3"/><path d="M-3.6,-1 L-1.4,2.4 L-1.6,6.2" stroke-width="2.4"/><path d="M-6,-7.4 C-5.6,-8.4 -2.6,-8.6 -2,-7.6 L-0.6,-10.6 L0.2,-13.8 L1.5,-13.6 L1.2,-10.2 L-0.4,-6.4 L-2,-3.6 L-1.6,-0.4 L-2.6,0.8 L-5.4,0.2 L-6.4,-3 Z" fill="#fff" stroke="none"/><circle cx="-4.5" cy="-9.9" r="1.85" fill="#fff" stroke="none"/></g>
</svg></body></html>
